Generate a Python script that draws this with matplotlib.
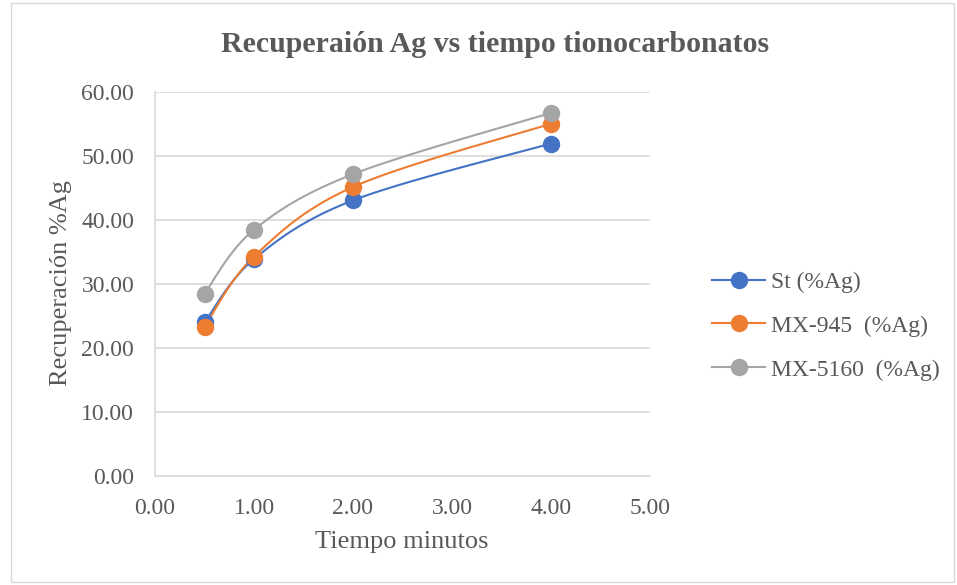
import numpy as np
import matplotlib.pyplot as plt
from matplotlib.patches import Rectangle

plt.rcParams['font.family'] = ['Liberation Serif', 'DejaVu Serif']

tiempo = [0.5, 1.0, 2.0, 4.0]
st = [24.0, 33.9, 43.1, 52.0]
mx945 = [23.3, 34.3, 45.2, 55.1]
mx5160 = [28.5, 38.5, 47.2, 56.8]

series = [
    ('St (%Ag)', st, '#4472C4'),
    ('MX-945  (%Ag)', mx945, '#ED7D31'),
    ('MX-5160  (%Ag)', mx5160, '#A5A5A5'),
]

xticks = [0, 1, 2, 3, 4, 5]
yticks = [0, 10, 20, 30, 40, 50, 60]

TXT = '#595959'


def smooth(x, y, n=40):
    # Catmull-Rom style bezier through the points (spreadsheet-like smoothed line)
    x = np.asarray(x, float)
    y = np.asarray(y, float)
    px = np.concatenate([[x[0]], x, [x[-1]]])
    py = np.concatenate([[y[0]], y, [y[-1]]])
    xs, ys = [], []
    t = np.linspace(0, 1, n)
    for i in range(1, len(px) - 2):
        p0 = np.array([px[i], py[i]])
        p3 = np.array([px[i + 1], py[i + 1]])
        p1 = p0 + (np.array([px[i + 1], py[i + 1]]) - np.array([px[i - 1], py[i - 1]])) / 6
        p2 = p3 - (np.array([px[i + 2], py[i + 2]]) - np.array([px[i], py[i]])) / 6
        b = ((1 - t) ** 3)[:, None] * p0 + (3 * (1 - t) ** 2 * t)[:, None] * p1 \
            + (3 * (1 - t) * t ** 2)[:, None] * p2 + (t ** 3)[:, None] * p3
        xs.extend(b[:, 0])
        ys.extend(b[:, 1])
    return xs, ys


fig = plt.figure(figsize=(9.57, 5.85), dpi=100)
fig.patches.append(Rectangle((0.011, 0.005), 0.986, 0.99, transform=fig.transFigure,
                             fill=False, edgecolor='#D9D9D9', linewidth=1))
ax = fig.add_axes([0.162, 0.187, 0.517, 0.655])

for name, vals, c in series:
    sx, sy = smooth(tiempo, vals)
    ax.plot(sx, sy, color=c, linewidth=1.5, zorder=3)
    ax.plot(tiempo, vals, 'o', color=c, markersize=11.5, zorder=4)
    ax.plot([], [], '-o', color=c, linewidth=1.5, markersize=11.5, label=name)

ax.set_xlim(0, 5)
ax.set_ylim(0, 60)
ax.set_xticks(xticks)
ax.set_yticks(yticks)
ax.set_xticklabels([f'{v:.2f}' for v in xticks])
ax.set_yticklabels([f'{v:.2f}' for v in yticks])
ax.tick_params(length=0, labelsize=17, labelcolor=TXT)
ax.tick_params(axis='x', pad=16)
ax.tick_params(axis='y', pad=15)
ax.grid(axis='y', color='#D9D9D9', linewidth=1.2)
ax.set_axisbelow(True)
for s in ['top', 'right']:
    ax.spines[s].set_visible(False)
for s in ['left', 'bottom']:
    ax.spines[s].set_color('#D9D9D9')
    ax.spines[s].set_linewidth(1.2)

fig.text(402 / 957, 1 - 542 / 585, 'Tiempo minutos', fontsize=19, color=TXT,
         ha='center', va='center')
fig.text(61 / 957, 1 - 283 / 585, 'Recuperación %Ag', fontsize=19, color=TXT,
         ha='center', va='center', rotation=90)
fig.text(495 / 957, 1 - 45 / 585, 'Recuperaión Ag vs tiempo tionocarbonatos',
         fontsize=21.5, fontweight='bold', color=TXT, ha='center', va='center')

fig.legend(loc='center left', bbox_to_anchor=(712 / 957, 1 - 326 / 585), frameon=False,
           fontsize=17, labelcolor=TXT, handlelength=2.25, handletextpad=0.25,
           labelspacing=0.95, borderpad=0, borderaxespad=0)

fig.savefig('out.png', dpi=100)
